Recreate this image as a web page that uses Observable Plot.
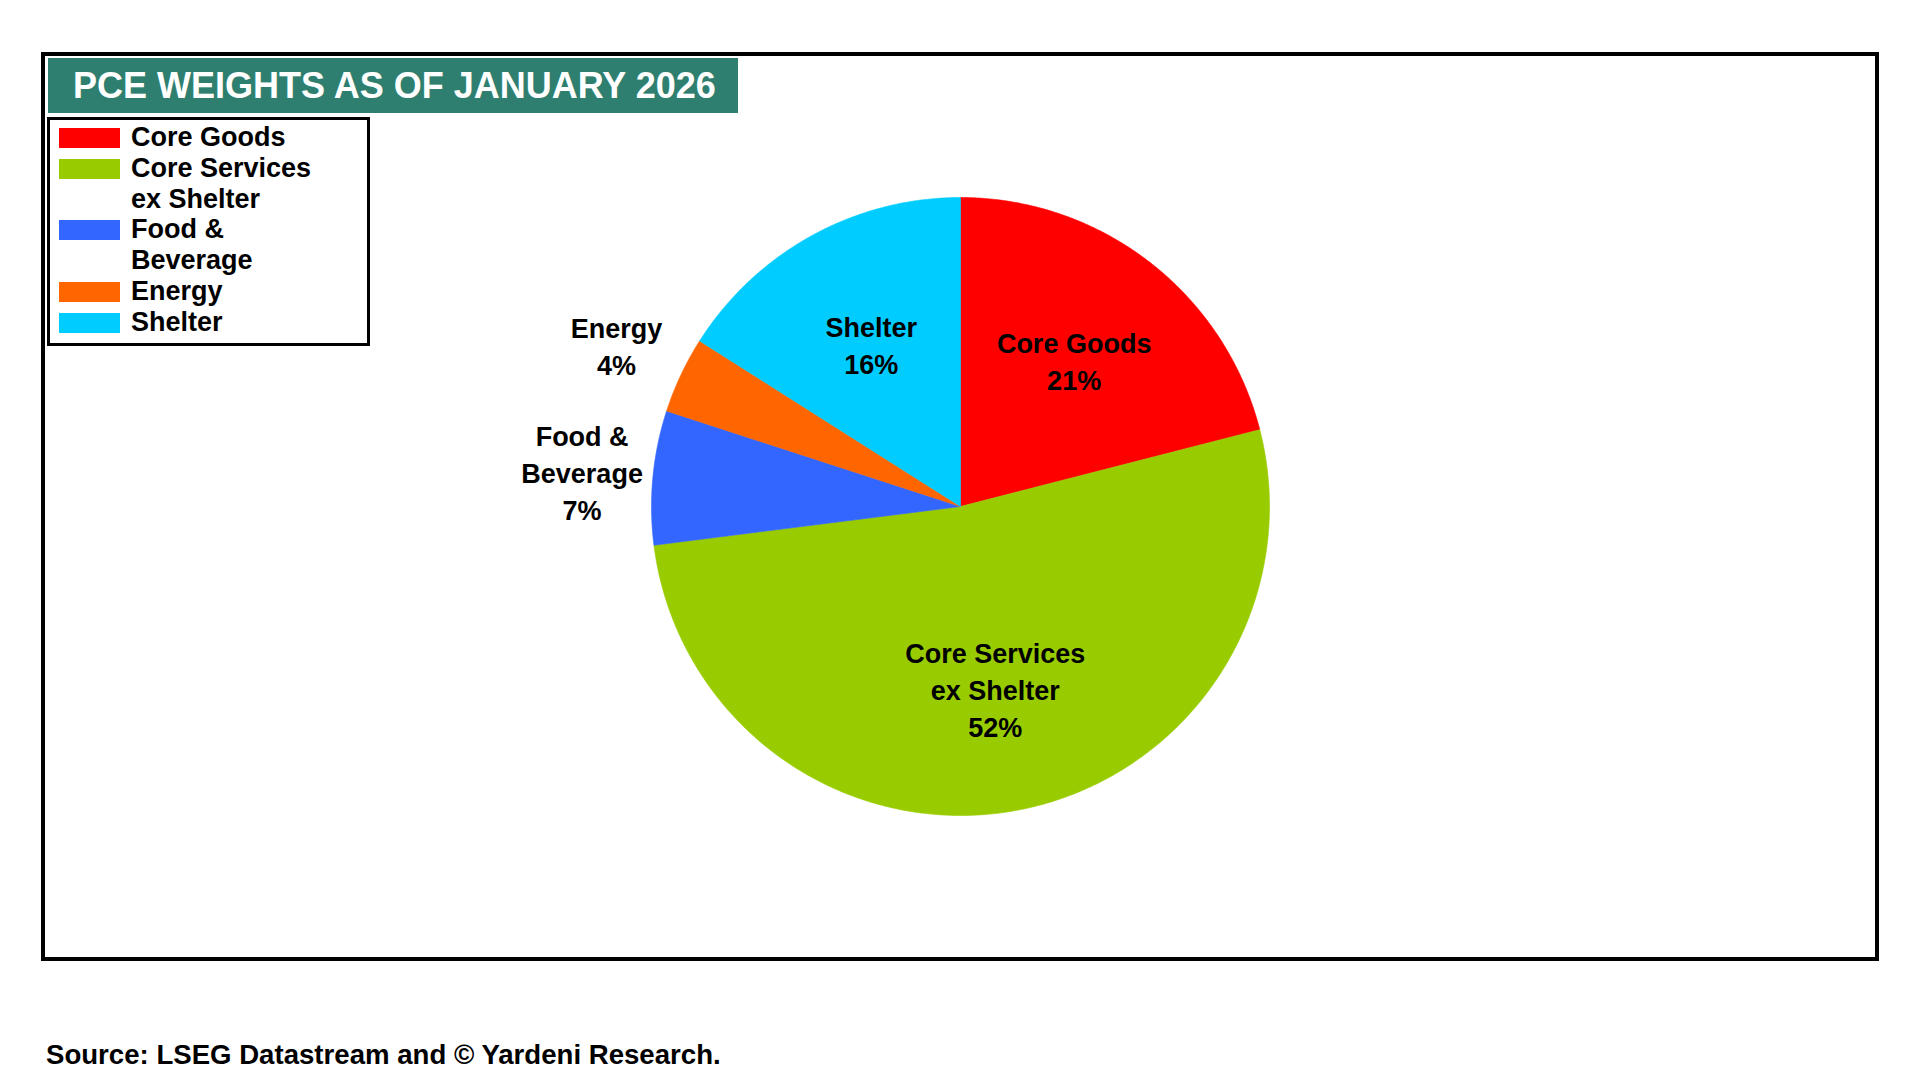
<!DOCTYPE html>
<html>
<head>
<meta charset="utf-8">
<script src="https://cdn.jsdelivr.net/npm/d3@7"></script>
<script src="https://cdn.jsdelivr.net/npm/@observablehq/plot@0.6"></script>
<style>
  html, body { margin: 0; padding: 0; background: #fff; width: 1920px; height: 1080px; overflow: hidden; }
  body { position: relative; font-family: "Liberation Sans", Arial, sans-serif; }
  #chart { position: absolute; left: 0; top: 0; }
  #frame { position: absolute; left: 41px; top: 52px; width: 1838px; height: 909px; box-sizing: border-box; border: 4px solid #000; pointer-events: none; }
  #title { position: absolute; left: 48px; top: 58px; width: 690px; height: 55px; box-sizing: border-box; padding-left: 25px;
           background: #2F7F70; color: #fff; font-weight: bold; font-size: 36px; line-height: 55px; white-space: nowrap; }
  #legend { position: absolute; left: 47px; top: 117px; width: 323px; height: 229px; box-sizing: border-box; border: 3px solid #000; background: #fff; padding-top: 2px; }
  .item { display: flex; align-items: flex-start; }
  .sw { width: 61px; height: 20px; margin-left: 9px; margin-top: 6px; flex: none; }
  .lt { margin-left: 11px; font-weight: bold; font-size: 27px; line-height: 30.8px; color: #000; white-space: pre; }
  #source { position: absolute; left: 46px; top: 1040px; font-weight: bold; font-size: 27.6px; line-height: 30px; color: #000; white-space: nowrap; }
</style>
</head>
<body>
<div id="chart"></div>
<div id="frame"></div>
<div id="title"></div>
<div id="legend"></div>
<div id="source"></div>
<script>
// ---- data ----
const titleText = "PCE WEIGHTS AS OF JANUARY 2026";
const sourceText = "Source: LSEG Datastream and © Yardeni Research.";
const categories = ["Core Goods", "Core Services ex Shelter", "Food & Beverage", "Energy", "Shelter"];
const values = [21, 52, 7, 4, 16];
const colors = ["#FF0000", "#99CC00", "#3366FF", "#FF6600", "#00CCFF"];
const wrappedNames = ["Core Goods", "Core Services\nex Shelter", "Food &\nBeverage", "Energy", "Shelter"];

// ---- layout of the slices (angles from 12 o'clock, clockwise) ----
const arcs = d3.pie().sort(null).value(d => d.value).startAngle(0).endAngle(2 * Math.PI)(
  categories.map((c, i) => ({cat: c, value: values[i], name: wrappedNames[i]}))
);

// polygon outline for each slice in unit-circle coordinates
const slicePts = [];
for (const a of arcs) {
  const steps = Math.max(2, Math.ceil((a.endAngle - a.startAngle) / (Math.PI / 360)));
  slicePts.push({cat: a.data.cat, px: 0, py: 0});
  for (let k = 0; k <= steps; k++) {
    const t = a.startAngle + (a.endAngle - a.startAngle) * k / steps;
    slicePts.push({cat: a.data.cat, px: Math.sin(t), py: Math.cos(t)});
  }
  slicePts.push({cat: a.data.cat, px: 0, py: 0});
}

// labels: inside for large slices, outside for small ones
const labels = arcs.map(a => {
  const mid = (a.startAngle + a.endAngle) / 2;
  const share = a.value / d3.sum(values);
  const r = share < 0.1 ? 1.23 : 0.6;
  return {px: r * Math.sin(mid), py: r * Math.cos(mid), text: `${a.data.name}\n${a.value}%`};
});

const chart = Plot.plot({
  width: 1920,
  height: 1080,
  marginLeft: 651,
  marginRight: 651,
  marginTop: 197,
  marginBottom: 265,
  x: {domain: [-1, 1], axis: null},
  y: {domain: [-1, 1], axis: null},
  color: {domain: categories, range: colors},
  style: {background: "transparent", fontFamily: "Liberation Sans, Arial, sans-serif", overflow: "visible"},
  marks: [
    Plot.line(slicePts, {x: "px", y: "py", z: "cat", fill: "cat", stroke: "cat", strokeWidth: 0.6, curve: "linear"}),
    Plot.text(labels, {x: "px", y: "py", text: "text", fontSize: 27, fontWeight: "bold", fill: "#000", lineHeight: 1.37, textAnchor: "middle"})
  ]
});
document.getElementById("chart").appendChild(chart);

// ---- title, legend, source ----
document.getElementById("title").textContent = titleText;
document.getElementById("source").textContent = sourceText;
const legend = document.getElementById("legend");
categories.forEach((c, i) => {
  const row = document.createElement("div");
  row.className = "item";
  const sw = document.createElement("div");
  sw.className = "sw";
  sw.style.background = colors[i];
  const lt = document.createElement("div");
  lt.className = "lt";
  lt.textContent = wrappedNames[i];
  row.appendChild(sw);
  row.appendChild(lt);
  legend.appendChild(row);
});
</script>
</body>
</html>
